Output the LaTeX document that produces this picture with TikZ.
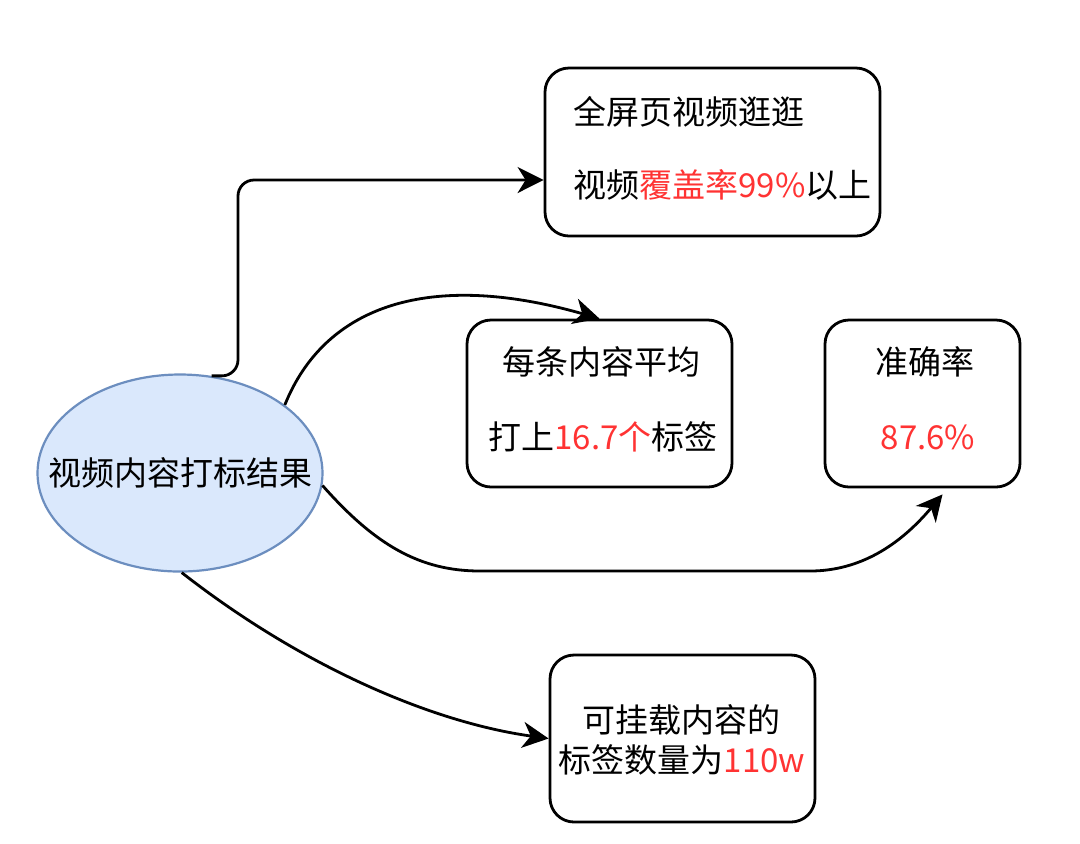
\documentclass[tikz,border=0pt]{standalone}
\usepackage{fontspec}
\setmainfont{Noto Sans CJK SC}
\usetikzlibrary{arrows.meta,shapes.geometric,calc}
\definecolor{hl}{HTML}{FF3333}
\definecolor{efill}{HTML}{DAE8FC}
\definecolor{edraw}{HTML}{6C8EBF}
\tikzset{
  box/.style={draw=black,line width=1.4pt,rounded corners=12pt,fill=white,inner sep=0pt},
  txt/.style={font=\fontsize{16.5pt}{20pt}\selectfont,inner sep=0pt,text=black},
  conn/.style={draw=black,line width=1.4pt,-{Stealth[length=13pt,width=13pt,inset=4pt]}}
}
\begin{document}
\begin{tikzpicture}[x=0.5pt,y=-0.5pt]
\useasboundingbox[fill=white] (0,0) rectangle (1080,843);
% central ellipse
\node[ellipse,draw=edraw,fill=efill,line width=1.1pt,minimum width=142.5pt,minimum height=98.5pt,inner sep=0pt,txt] (e) at (180,473) {\makebox[0pt]{视频内容打标结果}};
% boxes
\node[box,minimum width=167.5pt,minimum height=84pt] (b1) at (712.5,152) {};
\node[box,minimum width=132.5pt,minimum height=83.5pt] (b2) at (599.5,403.5) {};
\node[box,minimum width=97.5pt,minimum height=83.5pt] (b3) at (922.5,403.5) {};
\node[box,minimum width=132.5pt,minimum height=83.5pt] (b4) at (682.5,738.5) {};
% texts
\node[txt,anchor=west] (t1a) at (573,112) {全屏页视频逛逛};
\node[txt,anchor=west] (t1b) at (573,185) {视频\textcolor{hl}{覆盖率99\%}以上};
\node[txt] (t2a) at (601,362) {每条内容平均};
\node[txt] (t2b) at (603,437) {打上\textcolor{hl}{16.7个}标签};
\node[txt] (t3a) at (925,362) {准确率};
\node[txt,text=hl] (t3b) at (928,437) {87.6\%};
\node[txt] (t4a) at (681,720) {可挂载内容的};
\node[txt] (t4b) at (682,760) {标签数量为\textcolor{hl}{110w}};
% connectors
\coordinate (c1) at (238,180);
\coordinate (a1) at ($(b1.west)+(0,28)$);
\draw[conn,rounded corners=8pt] (e.72) -| (c1) -- (a1);
\draw[conn] (e.33) .. controls (325,305) and (430,270) .. (b2.north);
\coordinate (a3) at ($(b3.south)+(20,6)$);
\draw[conn] (e.-5) .. controls (375,545) and (420,571) .. (480,571) -- (810,571) .. controls (860,571) and (900,545) .. (a3);
\draw[conn] (e.-89) .. controls (300,665) and (430,722) .. (b4.west);
\end{tikzpicture}
\end{document}
